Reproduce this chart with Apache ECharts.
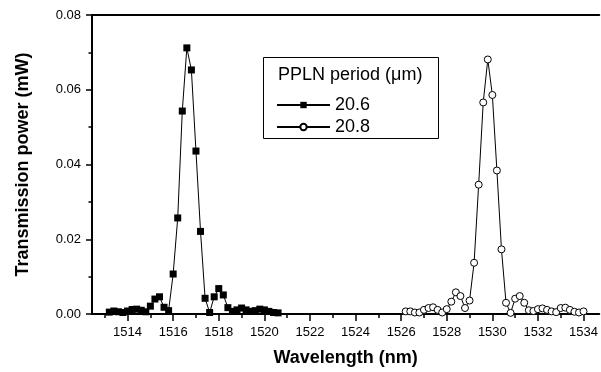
<!DOCTYPE html>
<html>
<head>
<meta charset="utf-8">
<script src="https://cdn.jsdelivr.net/npm/echarts@6/dist/echarts.min.js"></script>
<style>
  html, body { margin: 0; padding: 0; background: #fff; }
  #chart { width: 601px; height: 372px; }
</style>
</head>
<body>
<div id="chart"></div>
<script>
// PPLN period 20.6 um (filled squares)
const wl206 = [1513.2, 1513.4, 1513.6, 1513.8, 1514.0, 1514.2, 1514.4, 1514.6, 1514.8, 1515.0,
  1515.2, 1515.4, 1515.6, 1515.8, 1516.0, 1516.2, 1516.4, 1516.6, 1516.8, 1517.0,
  1517.2, 1517.4, 1517.6, 1517.8, 1518.0, 1518.2, 1518.4, 1518.6, 1518.8, 1519.0,
  1519.2, 1519.4, 1519.6, 1519.8, 1520.0, 1520.2, 1520.4, 1520.6];
const pw206 = [0.0005, 0.0008, 0.0006, 0.0004, 0.0008, 0.0012, 0.0013, 0.0010, 0.0006, 0.0021,
  0.0040, 0.0046, 0.0018, 0.0009, 0.0107, 0.0257, 0.0543, 0.0712, 0.0653, 0.0436,
  0.0221, 0.0042, 0.0004, 0.0046, 0.0068, 0.0051, 0.0017, 0.0007, 0.0011, 0.0016,
  0.0011, 0.0007, 0.0009, 0.0013, 0.0011, 0.0007, 0.0004, 0.0003];

// PPLN period 20.8 um (open circles)
const wl208 = [1526.2, 1526.4, 1526.6, 1526.8, 1527.0, 1527.2, 1527.4, 1527.6, 1527.8, 1528.0,
  1528.2, 1528.4, 1528.6, 1528.8, 1529.0, 1529.2, 1529.4, 1529.6, 1529.8, 1530.0,
  1530.2, 1530.4, 1530.6, 1530.8, 1531.0, 1531.2, 1531.4, 1531.6, 1531.8, 1532.0,
  1532.2, 1532.4, 1532.6, 1532.8, 1533.0, 1533.2, 1533.4, 1533.6, 1533.8, 1534.0];
const pw208 = [0.0007, 0.0007, 0.0004, 0.0004, 0.0011, 0.0016, 0.0018, 0.0011, 0.0004, 0.0013,
  0.0033, 0.0058, 0.0048, 0.0016, 0.0036, 0.0137, 0.0346, 0.0566, 0.0681, 0.0586,
  0.0384, 0.0173, 0.0030, 0.0003, 0.0041, 0.0048, 0.0030, 0.0010, 0.0008, 0.0013,
  0.0015, 0.0011, 0.0007, 0.0005, 0.0016, 0.0017, 0.0011, 0.0006, 0.0004, 0.0007];

const majorTicks = [1514, 1516, 1518, 1520, 1522, 1524, 1526, 1528, 1530, 1532, 1534];
const minorTicks = [1513, 1515, 1517, 1519, 1521, 1523, 1525, 1527, 1529, 1531, 1533];
const seriesNames = ['20.6', '20.8'];
const legendTitle = 'PPLN period (\u03bcm)';

const FONT = 'Liberation Sans, Arial, sans-serif';
const X_MIN = 1512.44;
const X_MAX = 1534.69;

const pairs = (xs, ys) => xs.map((x, i) => [x, ys[i]]);

const chart = echarts.init(document.getElementById('chart'), null, { renderer: 'canvas' });

const option = {
  animation: false,
  backgroundColor: '#fff',
  grid: { left: 92, top: 15, right: 0, bottom: 51, containLabel: false },
  legend: {
    orient: 'vertical',
    left: 271,
    top: 90,
    itemWidth: 53,
    itemHeight: 8,
    itemGap: 2,
    data: seriesNames,
    textStyle: { fontFamily: FONT, fontSize: 18, color: '#000', lineHeight: 20 },
  },
  graphic: [
    {
      type: 'rect',
      shape: { x: 263.5, y: 57.5, width: 175, height: 81 },
      style: { fill: 'none', stroke: '#000', lineWidth: 1 },
      z: 100,
    },
    {
      type: 'text',
      left: 278,
      top: 66,
      style: { text: legendTitle, font: '18px ' + FONT, fill: '#000' },
      z: 100,
    },
  ],
  xAxis: [
    {
      type: 'value',
      position: 'bottom',
      min: X_MIN,
      max: X_MAX,
      name: 'Wavelength (nm)',
      nameLocation: 'middle',
      nameGap: 35,
      nameTextStyle: { fontFamily: FONT, fontSize: 18, fontWeight: 'bold', color: '#000' },
      axisLine: { show: true, onZero: false, lineStyle: { color: '#000', width: 2 } },
      axisTick: { show: true, customValues: majorTicks, length: 7, lineStyle: { color: '#000', width: 1.5 } },
      axisLabel: {
        customValues: majorTicks,
        margin: 12,
        fontFamily: FONT,
        fontSize: 13,
        color: '#000',
        formatter: v => String(v),
      },
      splitLine: { show: false },
    },
    {
      type: 'value',
      position: 'bottom',
      min: X_MIN,
      max: X_MAX,
      axisLine: { show: false, onZero: false },
      axisTick: { show: true, customValues: minorTicks, length: 4, lineStyle: { color: '#000', width: 1.5 } },
      axisLabel: { show: false },
      splitLine: { show: false },
    },
    {
      type: 'value',
      position: 'top',
      min: X_MIN,
      max: X_MAX,
      axisLine: { show: true, onZero: false, lineStyle: { color: '#000', width: 2 } },
      axisTick: { show: false },
      axisLabel: { show: false },
      splitLine: { show: false },
    },
  ],
  yAxis: {
    type: 'value',
    min: 0,
    max: 0.08,
    interval: 0.02,
    name: 'Transmission power (mW)',
    nameLocation: 'middle',
    nameGap: 60,
    nameTextStyle: { fontFamily: FONT, fontSize: 18, fontWeight: 'bold', color: '#000' },
    axisLine: { show: true, onZero: false, lineStyle: { color: '#000', width: 2 } },
    axisTick: { show: true, length: 6, lineStyle: { color: '#000', width: 1.5 } },
    minorTick: { show: true, splitNumber: 2, length: 3.5, lineStyle: { color: '#000', width: 1.5 } },
    axisLabel: {
      margin: 11,
      fontFamily: FONT,
      fontSize: 13,
      color: '#000',
      formatter: v => v.toFixed(2),
    },
    splitLine: { show: false },
  },
  series: [
    {
      name: seriesNames[0],
      type: 'line',
      xAxisIndex: 0,
      data: pairs(wl206, pw206),
      symbol: 'rect',
      symbolSize: 7,
      showSymbol: true,
      showAllSymbol: true,
      lineStyle: { color: '#000', width: 1 },
      itemStyle: { color: '#000', borderWidth: 0 },
      z: 3,
    },
    {
      name: seriesNames[1],
      type: 'line',
      xAxisIndex: 0,
      data: pairs(wl208, pw208),
      symbol: 'circle',
      symbolSize: 7,
      showSymbol: true,
      showAllSymbol: true,
      lineStyle: { color: '#000', width: 1 },
      itemStyle: { color: '#fff', borderColor: '#000', borderWidth: 1 },
      z: 3,
    },
  ],
};

chart.setOption(option);
</script>
</body>
</html>
